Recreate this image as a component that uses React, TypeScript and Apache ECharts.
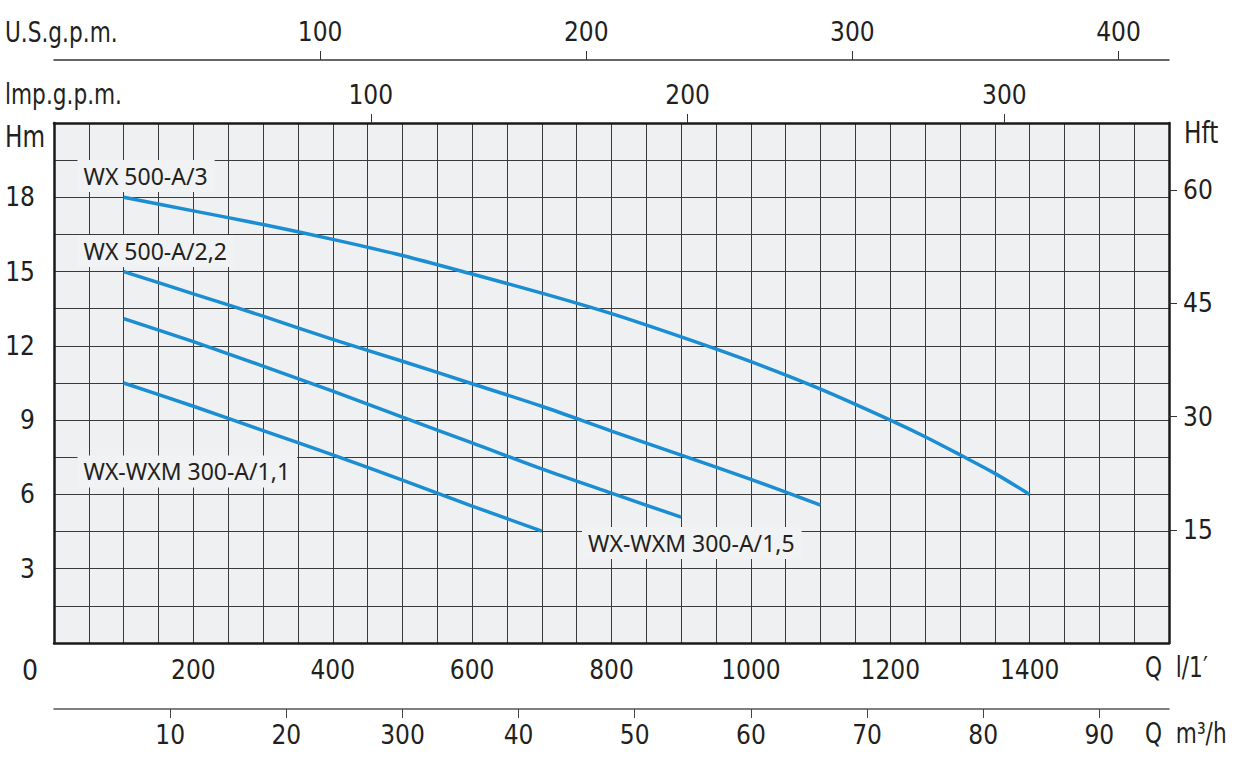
import React, { useEffect, useRef } from "react";
import * as echarts from "echarts";

// ---- data (Q in l/min, H in m) ----
const q1 = [100, 200, 300, 400, 500, 600, 700, 800, 900, 1000, 1100, 1200, 1250, 1300, 1350, 1400];
const h1 = [18.0, 17.45, 16.9, 16.3, 15.65, 14.9, 14.13, 13.3, 12.36, 11.36, 10.25, 9.0, 8.33, 7.6, 6.85, 6.0];

const q2 = [100, 200, 300, 400, 500, 600, 700, 800, 900, 1000, 1100];
const h2 = [15.0, 14.1, 13.2, 12.26, 11.38, 10.47, 9.56, 8.56, 7.59, 6.61, 5.57];

const q3 = [100, 200, 300, 400, 500, 600, 700, 800, 900];
const h3 = [13.1, 12.17, 11.18, 10.17, 9.12, 8.08, 7.03, 6.05, 5.08];

const q4 = [100, 200, 300, 400, 500, 600, 700];
const h4 = [10.5, 9.56, 8.58, 7.6, 6.58, 5.53, 4.52];

const seriesNames = ["WX 500-A/3", "WX 500-A/2,2", "WX-WXM 300-A/1,5", "WX-WXM 300-A/1,1"];
// label anchor (left edge, vertical centre) in data units
const labelQ = [33, 33, 757, 33];
const labelH = [18.86, 15.83, 4.04, 6.93];

// ---- tick labels ----
const lpmTicks = [200, 400, 600, 800, 1000, 1200, 1400];
const hmTicks = [3, 6, 9, 12, 15, 18];
const hftTicks = [15, 30, 45, 60];
const usTicks = [100, 200, 300, 400];
const impTicks = [100, 200, 300];
const m3hTicks = [10, 20, 30, 40, 50, 60, 70, 80, 90];
const m3hTickLabels = ["10", "20", "300", "40", "50", "60", "70", "80", "90"];

// ---- axis extents ----
const LPM_MAX = 1600;
const H_MAX = 21;
const HFT_MAX = H_MAX / 0.3048;
const IMP_MAX = LPM_MAX / 4.546;
const US_MAX = 419;
const M3H_MAX = 96;

const NUM_FONT = '"DejaVu Sans Condensed", "DejaVu Sans", sans-serif';
const LBL_FONT = '"Noto Sans", "Open Sans", sans-serif';
const INK = "#231f20";
const BLUE = "#1b8dd2";
const GRIDLINE = "#3a3a3a";
const BORDER = "#1a1a1a";

export default function App() {
  const ref = useRef<HTMLDivElement>(null);

  useEffect(() => {
    if (!ref.current) return;
    const chart = echarts.init(ref.current, undefined, { renderer: "svg" });

    const curves = [
      q1.map((q, i) => [q, h1[i]]),
      q2.map((q, i) => [q, h2[i]]),
      q3.map((q, i) => [q, h3[i]]),
      q4.map((q, i) => [q, h4[i]]),
    ];

    const numLabel = {
      fontFamily: NUM_FONT,
      fontSize: 26,
      color: INK,
    };

    const series: any[] = curves.map((d, i) => ({
      type: "line",
      name: seriesNames[i],
      xAxisIndex: 0,
      yAxisIndex: 0,
      data: d,
      smooth: 0.3,
      showSymbol: false,
      lineStyle: { color: BLUE, width: 3.5 },
      markPoint: {
        symbol: "circle",
        symbolSize: 1,
        itemStyle: { color: "rgba(0,0,0,0)" },
        label: {
          show: true,
          position: "right",
          distance: 0,
          formatter: seriesNames[i],
          fontFamily: LBL_FONT,
          fontSize: 23,
          lineHeight: 24,
          color: INK,
          backgroundColor: "#f1f2f3",
          padding: [4, 7, 4, 6],
        },
        data: [{ coord: [labelQ[i], labelH[i]] }],
      },
    }));

    const nameText = (text: string, left: number, top: number, size: number, sx = 0.86) => ({
      type: "text",
      x: left,
      y: top,
      scaleX: sx,
      style: { text, font: `${size}px ${NUM_FONT}`, fill: INK, textVerticalAlign: "middle" },
    });

    const option: any = {
      animation: false,
      backgroundColor: "#ffffff",
      grid: {
        left: 54,
        right: 82,
        top: 123,
        bottom: 124,
        show: true,
        backgroundColor: "#eff0f2",
        borderWidth: 0,
      },
      xAxis: [
        {
          type: "value",
          position: "bottom",
          min: 0,
          max: LPM_MAX,
          interval: 50,
          axisLine: { show: true, onZero: false, lineStyle: { color: BORDER, width: 2.5 } },
          axisTick: { show: false },
          axisLabel: {
            ...numLabel,
            margin: 14,
            formatter: (v: number) => (lpmTicks.includes(v) ? String(v) : ""),
          },
          splitLine: { show: true, lineStyle: { color: GRIDLINE, width: 1 } },
        },
        {
          type: "value",
          position: "top",
          min: 0,
          max: IMP_MAX,
          interval: 100,
          axisLine: { show: true, onZero: false, lineStyle: { color: BORDER, width: 2.5 } },
          axisTick: { show: true, customValues: impTicks, length: 9, lineStyle: { color: "#333", width: 1 } },
          axisLabel: {
            ...numLabel,
            margin: 15,
            customValues: impTicks,
            formatter: (v: number) => (impTicks.includes(v) ? String(v) : ""),
          },
          splitLine: { show: false },
        },
        {
          type: "value",
          position: "top",
          offset: 63,
          min: 0,
          max: US_MAX,
          interval: 100,
          axisLine: { show: true, onZero: false, lineStyle: { color: "#333", width: 1.5 } },
          axisTick: { show: true, customValues: usTicks, length: 9, lineStyle: { color: "#333", width: 1 } },
          axisLabel: {
            ...numLabel,
            margin: 15,
            customValues: usTicks,
            formatter: (v: number) => (usTicks.includes(v) ? String(v) : ""),
          },
          splitLine: { show: false },
        },
        {
          type: "value",
          position: "bottom",
          offset: 66,
          min: 0,
          max: M3H_MAX,
          interval: 10,
          axisLine: { show: true, onZero: false, lineStyle: { color: "#555", width: 1.5 } },
          axisTick: { show: true, customValues: m3hTicks, length: 9, lineStyle: { color: "#444", width: 1 } },
          axisLabel: {
            ...numLabel,
            margin: 13,
            customValues: m3hTicks,
            formatter: (v: number) => {
              const k = m3hTicks.indexOf(v);
              return k >= 0 ? m3hTickLabels[k] : "";
            },
          },
          splitLine: { show: false },
        },
      ],
      yAxis: [
        {
          type: "value",
          position: "left",
          min: 0,
          max: H_MAX,
          interval: 1.5,
          axisLine: { show: true, onZero: false, lineStyle: { color: BORDER, width: 2.5 } },
          axisTick: { show: false },
          axisLabel: {
            ...numLabel,
            margin: 19,
            formatter: (v: number) => (hmTicks.includes(v) ? String(v) : ""),
          },
          splitLine: { show: true, lineStyle: { color: GRIDLINE, width: 1 } },
        },
        {
          type: "value",
          position: "right",
          min: 0,
          max: HFT_MAX,
          interval: 15,
          axisLine: { show: true, onZero: false, lineStyle: { color: BORDER, width: 2.5 } },
          axisTick: { show: true, customValues: hftTicks, length: 8, lineStyle: { color: "#333", width: 1 } },
          axisLabel: {
            ...numLabel,
            margin: 14,
            customValues: hftTicks,
            formatter: (v: number) => (hftTicks.includes(v) ? String(v) : ""),
          },
          splitLine: { show: false },
        },
      ],
      graphic: [
        nameText("U.S.g.p.m.", 5, 32, 28),
        nameText("lmp.g.p.m.", 5, 94, 28),
        nameText("Hm", 5, 137, 30),
        nameText("Hft", 1184, 133, 30),
        nameText("0", 22, 670, 28, 1),
        nameText("Q  l/1\u2032", 1145, 667, 28),
        nameText("Q  m\u00b3/h", 1145, 733, 28),
      ],
      series,
    };

    chart.setOption(option);
    return () => chart.dispose();
  }, []);

  return (
    <div
      ref={ref}
      style={{ position: "fixed", left: 0, top: 0, width: 1251, height: 767 }}
    />
  );
}
